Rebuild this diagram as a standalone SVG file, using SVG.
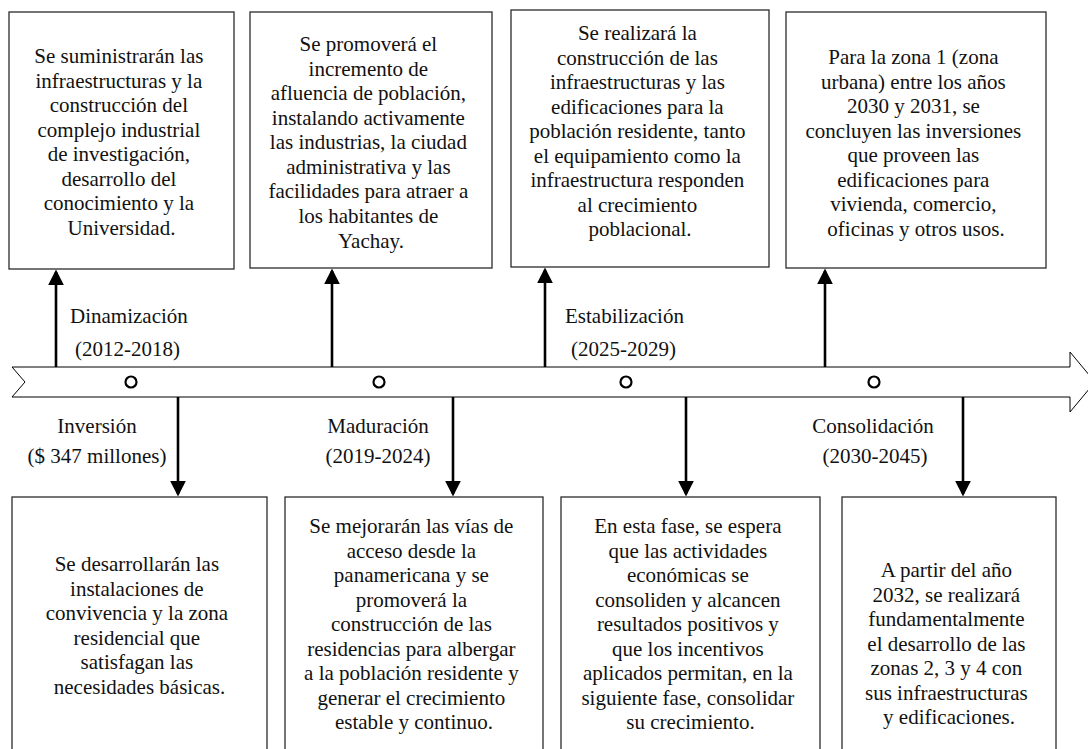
<svg xmlns="http://www.w3.org/2000/svg" width="1088" height="749" viewBox="0 0 1088 749">
  <style>
    .box { fill: #ffffff; stroke: #2b2b2b; stroke-width: 1.3; }
    .txt { font-family: "Liberation Serif", "Times New Roman", serif; font-size: 21px; fill: #111111; text-anchor: middle; }
    .lbl { font-family: "Liberation Serif", "Times New Roman", serif; font-size: 21px; fill: #111111; }
    .arrow { stroke: #000000; stroke-width: 2.6; fill: none; }
    .dot { fill: #ffffff; stroke: #000000; stroke-width: 2.2; }
  </style>
  <defs>
    <marker id="head" markerWidth="6" markerHeight="6" refX="5" refY="3" orient="auto" markerUnits="strokeWidth">
      <path d="M0,0 L6,3 L0,6 Z" fill="#000000"/>
    </marker>
  </defs>
  <rect width="1088" height="749" fill="#ffffff"/>

  <!-- timeline band -->
  <g id="timeline">
    <path d="M12,367 L1070,367 L1070,352 L1095,382 L1070,412 L1070,397 L12,397 L25,382 Z" fill="#ffffff" stroke="#000000" stroke-width="1"/>
    <circle class="dot" cx="131" cy="382" r="5.5"/>
    <circle class="dot" cx="379" cy="382" r="5.5"/>
    <circle class="dot" cx="626" cy="382" r="5.5"/>
    <circle class="dot" cx="874" cy="382" r="5.5"/>
  </g>

  <!-- connectors -->
  <g id="connectors">
    <line class="arrow" x1="56" y1="367" x2="56" y2="272" marker-end="url(#head)"/>
    <line class="arrow" x1="332" y1="367" x2="332" y2="271" marker-end="url(#head)"/>
    <line class="arrow" x1="545" y1="367" x2="545" y2="270" marker-end="url(#head)"/>
    <line class="arrow" x1="825" y1="367" x2="825" y2="271" marker-end="url(#head)"/>
    <line class="arrow" x1="178" y1="397" x2="178" y2="494" marker-end="url(#head)"/>
    <line class="arrow" x1="453" y1="397" x2="453" y2="494" marker-end="url(#head)"/>
    <line class="arrow" x1="686" y1="397" x2="686" y2="494" marker-end="url(#head)"/>
    <line class="arrow" x1="963" y1="397" x2="963" y2="494" marker-end="url(#head)"/>
  </g>

  <!-- phase labels -->
  <g id="labels">
    <text class="lbl" x="70" y="323">Dinamización</text>
    <text class="lbl" x="75" y="356">(2012-2018)</text>
    <text class="lbl" x="565" y="323">Estabilización</text>
    <text class="lbl" x="571" y="356">(2025-2029)</text>
    <text class="txt" x="97" y="433">Inversión</text>
    <text class="txt" x="97" y="463">($ 347 millones)</text>
    <text class="txt" x="378" y="433">Maduración</text>
    <text class="txt" x="378" y="463">(2019-2024)</text>
    <text class="txt" x="873" y="433">Consolidación</text>
    <text class="txt" x="875" y="463">(2030-2045)</text>
  </g>

  <!-- upper boxes -->
  <g id="box-dinamizacion">
    <rect class="box" x="9" y="12" width="225" height="257"/>
    <text class="txt" x="121.5" y="63">
      <tspan x="121.5" dy="0">Se suministrarán las</tspan>
      <tspan x="121.5" dy="24.5">infraestructuras y la</tspan>
      <tspan x="121.5" dy="24.5">construcción del</tspan>
      <tspan x="121.5" dy="24.5">complejo industrial</tspan>
      <tspan x="121.5" dy="24.5">de investigación,</tspan>
      <tspan x="121.5" dy="24.5">desarrollo del</tspan>
      <tspan x="121.5" dy="24.5">conocimiento y la</tspan>
      <tspan x="121.5" dy="24.5">Universidad.</tspan>
    </text>
  </g>
  <g id="box-maduracion-up">
    <rect class="box" x="250" y="12" width="242" height="256"/>
    <text class="txt" x="371" y="51">
      <tspan x="371" dy="0">Se promoverá el</tspan>
      <tspan x="371" dy="24.5">incremento de</tspan>
      <tspan x="371" dy="24.5">afluencia de población,</tspan>
      <tspan x="371" dy="24.5">instalando activamente</tspan>
      <tspan x="371" dy="24.5">las industrias, la ciudad</tspan>
      <tspan x="371" dy="24.5">administrativa y las</tspan>
      <tspan x="371" dy="24.5">facilidades para atraer a</tspan>
      <tspan x="371" dy="24.5">los habitantes de</tspan>
      <tspan x="371" dy="25.5">Yachay.</tspan>
    </text>
  </g>
  <g id="box-estabilizacion">
    <rect class="box" x="511" y="10" width="258" height="257"/>
    <text class="txt" x="640" y="40">
      <tspan x="640" dy="0">Se realizará la</tspan>
      <tspan x="640" dy="24.5">construcción de las</tspan>
      <tspan x="640" dy="24.5">infraestructuras y las</tspan>
      <tspan x="640" dy="24.5">edificaciones para la</tspan>
      <tspan x="640" dy="24.5">población residente, tanto</tspan>
      <tspan x="640" dy="24.5">el equipamiento como la</tspan>
      <tspan x="640" dy="24.5">infraestructura responden</tspan>
      <tspan x="640" dy="24.5">al crecimiento</tspan>
      <tspan x="640" dy="24.5">poblacional.</tspan>
    </text>
  </g>
  <g id="box-consolidacion-up">
    <rect class="box" x="786" y="12" width="260" height="256"/>
    <text class="txt" x="916" y="64">
      <tspan x="916" dy="0">Para la zona 1 (zona</tspan>
      <tspan x="916" dy="24.5">urbana) entre los años</tspan>
      <tspan x="916" dy="24.5">2030 y 2031, se</tspan>
      <tspan x="916" dy="24.5">concluyen las inversiones</tspan>
      <tspan x="916" dy="24.5">que proveen las</tspan>
      <tspan x="916" dy="24.5">edificaciones para</tspan>
      <tspan x="916" dy="24.5">vivienda, comercio,</tspan>
      <tspan x="916" dy="24.5">oficinas y otros usos.</tspan>
    </text>
  </g>

  <!-- lower boxes -->
  <g id="box-inversion">
    <rect class="box" x="12" y="497" width="255" height="270"/>
    <text class="txt" x="139.5" y="571">
      <tspan x="139.5" dy="0">Se desarrollarán las</tspan>
      <tspan x="139.5" dy="24.5">instalaciones de</tspan>
      <tspan x="139.5" dy="24.5">convivencia y la zona</tspan>
      <tspan x="139.5" dy="24.5">residencial que</tspan>
      <tspan x="139.5" dy="24.5">satisfagan las</tspan>
      <tspan x="139.5" dy="24.5">necesidades básicas.</tspan>
    </text>
  </g>
  <g id="box-maduracion-down">
    <rect class="box" x="285" y="497" width="258" height="270"/>
    <text class="txt" x="414" y="533">
      <tspan x="414" dy="0">Se mejorarán las vías de</tspan>
      <tspan x="414" dy="24.5">acceso desde la</tspan>
      <tspan x="414" dy="24.5">panamericana y se</tspan>
      <tspan x="414" dy="24.5">promoverá la</tspan>
      <tspan x="414" dy="24.5">construcción de las</tspan>
      <tspan x="414" dy="24.5">residencias para albergar</tspan>
      <tspan x="414" dy="24.5">a la población residente y</tspan>
      <tspan x="414" dy="24.5">generar el crecimiento</tspan>
      <tspan x="414" dy="24.5">estable y continuo.</tspan>
    </text>
  </g>
  <g id="box-estabilizacion-down">
    <rect class="box" x="561" y="497" width="259" height="270"/>
    <text class="txt" x="690.5" y="533">
      <tspan x="690.5" dy="0">En esta fase, se espera</tspan>
      <tspan x="690.5" dy="24.5">que las actividades</tspan>
      <tspan x="690.5" dy="24.5">económicas se</tspan>
      <tspan x="690.5" dy="24.5">consoliden y alcancen</tspan>
      <tspan x="690.5" dy="24.5">resultados positivos y</tspan>
      <tspan x="690.5" dy="24.5">que los incentivos</tspan>
      <tspan x="690.5" dy="24.5">aplicados permitan, en la</tspan>
      <tspan x="690.5" dy="24.5">siguiente fase, consolidar</tspan>
      <tspan x="690.5" dy="24.5">su crecimiento.</tspan>
    </text>
  </g>
  <g id="box-consolidacion-down">
    <rect class="box" x="842" y="497" width="214" height="270"/>
    <text class="txt" x="949" y="577">
      <tspan x="949" dy="0">A partir del año</tspan>
      <tspan x="949" dy="24.5">2032, se realizará</tspan>
      <tspan x="949" dy="24.5">fundamentalmente</tspan>
      <tspan x="949" dy="24.5">el desarrollo de las</tspan>
      <tspan x="949" dy="24.5">zonas 2, 3 y 4 con</tspan>
      <tspan x="949" dy="24.5">sus infraestructuras</tspan>
      <tspan x="949" dy="24.5">y edificaciones.</tspan>
    </text>
  </g>
</svg>
